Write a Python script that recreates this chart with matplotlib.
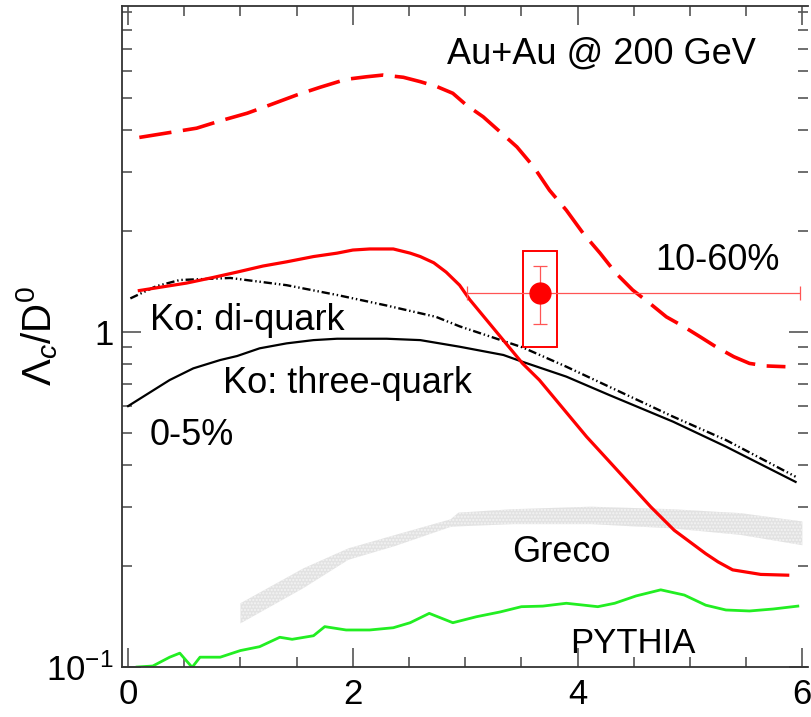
import numpy as np
import matplotlib
matplotlib.use("Agg")
import matplotlib.pyplot as plt
from matplotlib.ticker import FixedLocator, FixedFormatter, MultipleLocator, NullFormatter
from matplotlib.patches import Rectangle

plt.rcParams['font.family'] = ['Liberation Sans', 'DejaVu Sans']
plt.rcParams['mathtext.fontset'] = 'custom'
plt.rcParams['mathtext.rm'] = 'Liberation Sans'
plt.rcParams['mathtext.it'] = 'Liberation Sans:italic'

# 10-60% model (dashed red)
cent_x = [0.1, 0.37, 0.61, 0.82, 1.06, 1.26, 1.5, 1.71, 1.94, 2.12, 2.27, 2.45,
          2.6, 2.75, 2.89, 3.01, 3.16, 3.31, 3.46, 3.61, 3.75, 3.9, 4.05, 4.2,
          4.34, 4.49, 4.64, 4.79, 4.94, 5.09, 5.23, 5.39, 5.53, 5.68, 5.85]
cent_y = [3.81, 3.94, 4.06, 4.27, 4.50, 4.76, 5.10, 5.38, 5.68, 5.78, 5.85, 5.76,
          5.59, 5.40, 5.16, 4.76, 4.39, 3.96, 3.57, 3.11, 2.65, 2.31, 1.97, 1.72,
          1.50, 1.335, 1.22, 1.11, 1.04, 0.968, 0.904, 0.844, 0.806, 0.792, 0.788]

# 0-5% model (solid red)
per_x = [0.1, 0.52, 0.76, 0.97, 1.20, 1.41, 1.65, 1.86, 2.0, 2.15, 2.36, 2.51,
         2.6, 2.72, 2.83, 2.95, 3.04, 3.51, 3.66, 4.08, 4.27, 4.65, 4.86, 5.14,
         5.25, 5.38, 5.63, 5.87]
per_y = [1.33, 1.40, 1.456, 1.51, 1.574, 1.62, 1.68, 1.72, 1.757, 1.77, 1.77, 1.72,
         1.68, 1.61, 1.51, 1.38, 1.25, 0.806, 0.719, 0.487, 0.415, 0.301, 0.256, 0.218,
         0.206, 0.195, 0.189, 0.188]

# Ko coalescence, three-quark
ko3_x = [0.0, 0.37, 0.58, 0.82, 0.97, 1.17, 1.41, 1.65, 1.86, 2.3, 2.6, 2.95,
         3.34, 3.51, 3.9, 4.28, 4.85, 5.32, 5.94]
ko3_y = [0.601, 0.719, 0.779, 0.825, 0.848, 0.894, 0.925, 0.946, 0.955, 0.955,
         0.946, 0.904, 0.854, 0.815, 0.736, 0.649, 0.540, 0.455, 0.357]

# Ko coalescence, di-quark
ko2_x = [0.02, 0.25, 0.46, 0.91, 1.41, 1.86, 2.3, 2.74, 2.95, 3.51, 3.9, 4.85, 5.32, 5.94]
ko2_y = [1.26, 1.37, 1.43, 1.45, 1.38, 1.29, 1.20, 1.11, 1.04, 0.90, 0.788, 0.559, 0.476, 0.370]

# PYTHIA
py_x = [0.08, 0.22, 0.37, 0.46, 0.57, 0.64, 0.82, 1.0, 1.17, 1.35, 1.46, 1.65,
        1.75, 1.94, 2.15, 2.36, 2.51, 2.68, 2.89, 3.1, 3.31, 3.5, 3.69, 3.9,
        4.18, 4.33, 4.52, 4.74, 4.95, 5.14, 5.32, 5.53, 5.74, 5.96]
py_y = [0.100, 0.1007, 0.107, 0.110, 0.0998, 0.107, 0.107, 0.112, 0.115, 0.1227,
        0.121, 0.124, 0.132, 0.129, 0.129, 0.131, 0.1356, 0.1446, 0.1356, 0.1413,
        0.146, 0.1514, 0.152, 0.155, 0.1514, 0.155, 0.163, 0.170, 0.164, 0.153,
        0.148, 0.147, 0.149, 0.152]

# Greco band
gr_x = [1.0, 1.56, 1.96, 2.38, 2.87, 2.94, 3.43, 4.12, 4.83, 5.45, 6.0]
gr_lo = [0.135, 0.172, 0.209, 0.230, 0.262, 0.263, 0.267, 0.267, 0.2595, 0.248, 0.231]
gr_hi = [0.155, 0.197, 0.226, 0.248, 0.276, 0.289, 0.296, 0.301, 0.296, 0.288, 0.272]

# measured point, 10-60%
pt_x, pt_y = 3.667, 1.31
pt_xerr = [[0.65], [2.31]]
pt_yerr = [[0.25], [0.26]]
sys_lo, sys_hi = 0.90, 1.745
sys_w = 0.302

fig = plt.figure(figsize=(8.12, 7.17), dpi=100)
ax = fig.add_axes([0.150, 0.0697, 0.845, 0.9223])
ax.set_yscale('log')

ax.fill_between(gr_x, gr_lo, gr_hi, facecolor='#e2e2e2', edgecolor='#f4f4f4',
                hatch='.....', linewidth=0, zorder=1)
ax.plot(py_x, py_y, color='#22ee22', lw=2.0, zorder=2)
ax.plot(ko3_x, ko3_y, color='black', lw=1.6, zorder=3, solid_joinstyle='round')
ax.plot(ko2_x, ko2_y, color='black', lw=1.7, dashes=(3.5, 1.2, 0.6, 1.2, 0.6, 1.2), zorder=3)
ax.plot(per_x, per_y, color='red', lw=2.3, zorder=4, solid_joinstyle='round')
ax.plot(cent_x, cent_y, color='red', lw=2.6, dashes=(9.0, 3.2), zorder=4,
        dash_joinstyle='round')

ax.add_patch(Rectangle((pt_x - sys_w / 2, sys_lo), sys_w, sys_hi - sys_lo,
                       fill=False, edgecolor='red', lw=1.4, zorder=5))
ax.errorbar([pt_x], [pt_y], xerr=pt_xerr, yerr=pt_yerr, fmt='o', color='red',
            ms=15, ecolor='#ff5555', elinewidth=0.9, capsize=5, capthick=0.9, zorder=6)

ax.text(2.84, 6.35, 'Au+Au @ 200 GeV', fontsize=26)
ax.text(4.69, 1.53, '10-60%', fontsize=26)
ax.text(0.194, 1.012, 'Ko: di-quark', fontsize=26)
ax.text(0.843, 0.657, 'Ko: three-quark', fontsize=26)
ax.text(0.194, 0.46, '0-5%', fontsize=26)
ax.text(3.42, 0.2057, 'Greco', fontsize=26)
ax.text(3.93, 0.110, 'PYTHIA', fontsize=25)

ax.set_xlim(-0.056, 6.05)
ax.set_ylim(0.1, 9.42)
ax.xaxis.set_major_locator(MultipleLocator(2))
ax.xaxis.set_minor_locator(MultipleLocator(0.5))
ax.yaxis.set_major_locator(FixedLocator([0.1, 1]))
ax.yaxis.set_major_formatter(FixedFormatter([r'$10^{-1}$', '1']))
ax.yaxis.set_minor_locator(FixedLocator([0.2, 0.3, 0.4, 0.5, 0.6, 0.7, 0.8, 0.9,
                                          2, 3, 4, 5, 6, 7, 8, 9]))
ax.yaxis.set_minor_formatter(NullFormatter())

ax.tick_params(which='both', direction='in', top=True, right=True,
               color='#555555', width=1.2, labelsize=25)
ax.tick_params(which='major', length=14)
ax.tick_params(which='minor', length=7.5)
ax.tick_params(axis='x', pad=8)
ax.tick_params(axis='y', pad=6)

for side in ['left', 'bottom', 'top']:
    ax.spines[side].set_color('#333333')
    ax.spines[side].set_linewidth(1.3)
ax.spines['right'].set_visible(False)

ax.set_ylabel(r'$\Lambda_{c}/\mathrm{D}^{0}$', fontsize=29)
ax.yaxis.set_label_coords(-0.09, 0.5)

fig.savefig('out.png', dpi=100)
